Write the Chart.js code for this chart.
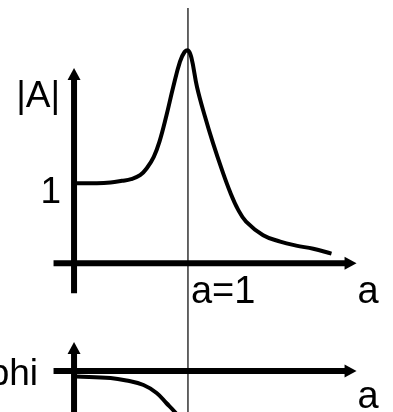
<!DOCTYPE html>
<html lang="en">
<head>
    <meta charset="UTF-8">
    <title>Resonance: amplitude and phase</title>
    <script src="https://cdn.jsdelivr.net/npm/chart.js"></script>
    <style>
        body {
            margin: 0;
            background: #fff;
        }

        .wrap {
            position: relative;
            width: 393px;
            height: 412px;
        }
    </style>
</head>
<body>
    <div class="wrap">
        <canvas id="resonance"></canvas>
    </div>

    <script>
        // amplitude |A| over frequency ratio a
        const ampA = [0.02, 0.20, 0.32, 0.42, 0.50, 0.58, 0.64, 0.70, 0.75, 0.81, 0.87, 0.93, 0.97, 1.0, 1.03, 1.08, 1.15, 1.22, 1.30, 1.37, 1.44, 1.51, 1.66, 1.81, 1.95, 2.10, 2.26];
        const ampValues = [1.0, 1.0, 1.01, 1.03, 1.05, 1.10, 1.19, 1.33, 1.52, 1.84, 2.2, 2.52, 2.64, 2.66, 2.57, 2.2, 1.83, 1.5, 1.16, 0.89, 0.67, 0.52, 0.35, 0.27, 0.22, 0.18, 0.12];

        // phase phi (rad), only the start is visible
        const phaseA = [0.02, 0.32, 0.46, 0.61, 0.725, 0.81, 0.885, 0.97];
        const phaseValues = [-0.11, -0.14, -0.19, -0.28, -0.44, -0.64, -0.82, -1.08];

        const resonanceMark = 1;
        const fontMain = '37px "Liberation Sans", Arial, sans-serif';
        const fontA = '38px "Liberation Sans", Arial, sans-serif';

        function toPoints(xs, ys) {
            return xs.map((x, i) => ({ x: x, y: ys[i] }));
        }

        function arrow(ctx, x, y, dir) {
            // dir: 'up' or 'right', (x, y) is the tip
            const len = 12, half = 6.5;
            ctx.beginPath();
            if (dir === 'up') {
                ctx.moveTo(x, y);
                ctx.lineTo(x - half, y + len);
                ctx.lineTo(x + half, y + len);
            } else {
                ctx.moveTo(x, y);
                ctx.lineTo(x - len, y - half);
                ctx.lineTo(x - len, y + half);
            }
            ctx.closePath();
            ctx.fill();
        }

        const axesPlugin = {
            id: 'axesPlugin',
            beforeDatasetsDraw(chart) {
                const ctx = chart.ctx;
                const xs = chart.scales.x, ys = chart.scales.y, ps = chart.scales.yPhi;
                const x0 = xs.getPixelForValue(0);
                const xStart = xs.getPixelForValue(-0.18);
                const xEnd = xs.getPixelForValue(2.48);

                ctx.save();
                ctx.strokeStyle = '#000';
                ctx.fillStyle = '#000';
                ctx.lineCap = 'butt';

                // thin marker at a = 1
                const xm = xs.getPixelForValue(resonanceMark);
                ctx.lineWidth = 1.5;
                ctx.strokeStyle = '#333';
                ctx.beginPath();
                ctx.moveTo(xm, ys.getPixelForValue(3.19));
                ctx.lineTo(xm, chart.height);
                ctx.stroke();
                ctx.strokeStyle = '#000';

                // top plot axes
                ctx.lineWidth = 6;
                const yTop = ys.getPixelForValue(2.44);
                const y0 = ys.getPixelForValue(0);
                ctx.beginPath();
                ctx.moveTo(x0, ys.getPixelForValue(-0.375));
                ctx.lineTo(x0, yTop + 10);
                ctx.moveTo(xStart, y0);
                ctx.lineTo(xEnd - 10, y0);
                ctx.stroke();
                arrow(ctx, x0, yTop, 'up');
                arrow(ctx, xEnd, y0, 'right');

                // bottom plot axes
                const pTop = ps.getPixelForValue(0.58);
                const p0 = ps.getPixelForValue(0);
                ctx.beginPath();
                ctx.moveTo(x0, chart.height);
                ctx.lineTo(x0, pTop + 10);
                ctx.moveTo(xStart, p0);
                ctx.lineTo(xEnd - 10, p0);
                ctx.stroke();
                arrow(ctx, x0, pTop, 'up');
                arrow(ctx, xEnd, p0, 'right');

                // labels
                ctx.textBaseline = 'alphabetic';
                ctx.font = fontMain;
                ctx.textAlign = 'right';
                ctx.fillText('|A|', x0 - 14, yTop + 39);
                ctx.fillText('1', x0 - 13, ys.getPixelForValue(1) + 20);
                ctx.fillText('phi', x0 - 36, p0 + 14);
                ctx.font = fontA;
                ctx.textAlign = 'left';
                ctx.fillText('a=1', xm + 3, y0 + 40);
                ctx.fillText('a', xEnd + 1, y0 + 40);
                ctx.fillText('a', xEnd + 1, p0 + 37);
                ctx.restore();
            }
        };

        const ctx = document.getElementById('resonance').getContext('2d');
        new Chart(ctx, {
            type: 'line',
            data: {
                datasets: [{
                    data: toPoints(ampA, ampValues),
                    yAxisID: 'y',
                    borderColor: '#000',
                    borderWidth: 4,
                    pointRadius: 0,
                    tension: 0.4,
                    borderJoinStyle: 'round',
                    fill: false
                }, {
                    data: toPoints(phaseA, phaseValues),
                    yAxisID: 'yPhi',
                    borderColor: '#000',
                    borderWidth: 4,
                    pointRadius: 0,
                    tension: 0.4,
                    borderJoinStyle: 'round',
                    fill: false
                }]
            },
            options: {
                responsive: true,
                maintainAspectRatio: false,
                animation: false,
                devicePixelRatio: 1,
                layout: { padding: 0 },
                plugins: {
                    legend: { display: false },
                    tooltip: { enabled: false }
                },
                scales: {
                    x: { type: 'linear', min: -0.65, max: 2.8, display: false },
                    y: { type: 'linear', min: -1.86, max: 3.29, display: false },
                    yPhi: { type: 'linear', min: -0.82, max: 7.42, display: false }
                }
            },
            plugins: [axesPlugin]
        });
    </script>
</body>
</html>
